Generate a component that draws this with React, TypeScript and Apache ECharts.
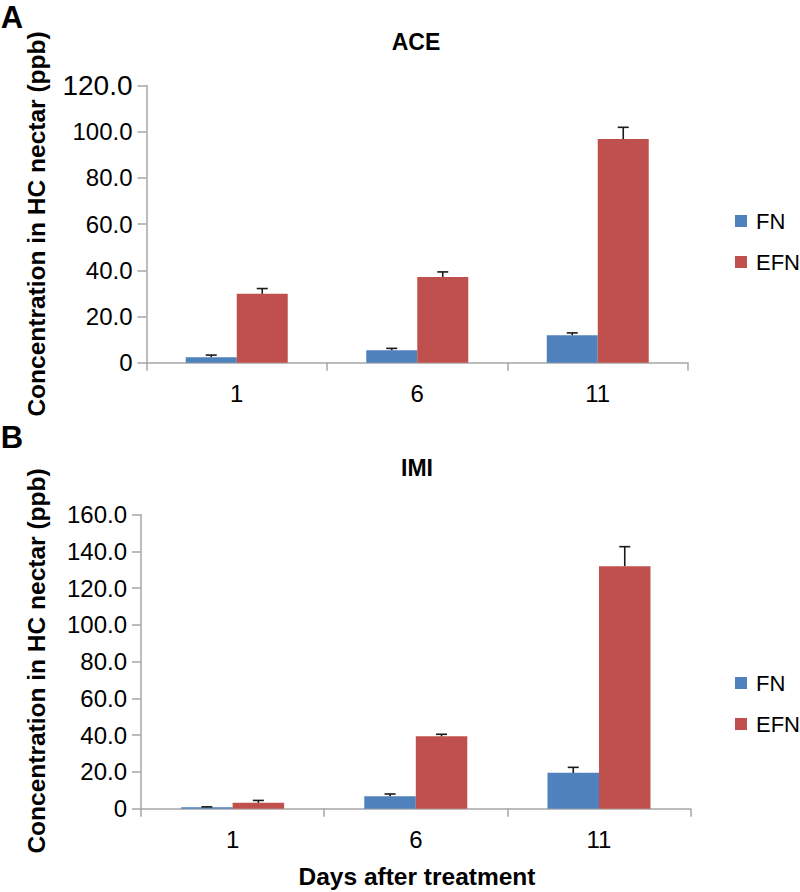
import React, { useEffect, useRef } from "react";
import * as echarts from "echarts";

const categories = ["1", "6", "11"];
const aceFN = [2.4, 5.4, 11.9];
const aceFNErr = [0.9, 0.8, 1.0];
const aceEFN = [29.8, 37.1, 96.8];
const aceEFNErr = [2.3, 2.2, 5.1];
const imiFN = [0.8, 6.8, 19.5];
const imiFNErr = [0.2, 1.2, 3.0];
const imiEFN = [3.2, 39.4, 132.0];
const imiEFNErr = [1.3, 1.1, 10.6];

const FONT = "'Liberation Sans', Arial, Helvetica, sans-serif";
const BLUE = "#4F81BD";
const RED = "#C0504D";
const AXIS = "#A6A6A6";

function errSeries(name: string, vals: number[], errs: number[], gi: number, offset: number) {
  return {
    type: "custom",
    name,
    xAxisIndex: gi,
    yAxisIndex: gi,
    z: 5,
    data: vals.map((v, i) => [i, v, errs[i]]),
    renderItem: (params: any, api: any) => {
      const cat = api.value(0);
      const v = api.value(1);
      const e = api.value(2);
      const base = api.coord([cat, v]);
      const top = api.coord([cat, v + e]);
      const x = base[0] + offset;
      const style = { stroke: "#1a1a1a", lineWidth: 1.6 };
      return {
        type: "group",
        children: [
          { type: "line", shape: { x1: x, y1: base[1], x2: x, y2: top[1] }, style },
          { type: "line", shape: { x1: x - 5.5, y1: top[1], x2: x + 5.5, y2: top[1] }, style },
        ],
      };
    },
  };
}

function yAxisCfg(gi: number, max: number, big: boolean) {
  return {
    type: "value",
    gridIndex: gi,
    min: 0,
    max,
    interval: 20,
    axisLine: { show: true, lineStyle: { color: AXIS, width: 1.5 } },
    axisTick: { show: true, length: 9, lineStyle: { color: AXIS, width: 1.5 } },
    splitLine: { show: false },
    axisLabel: {
      margin: 14,
      color: "#000",
      fontSize: 24,
      fontFamily: FONT,
      formatter: (v: number) => {
        if (v === 0) return "0";
        const s = v.toFixed(1);
        return big && v === max ? "{big|" + s + "}" : s;
      },
      rich: { big: { fontSize: 28, fontFamily: FONT, color: "#000" } },
    },
  };
}

function xAxisCfg(gi: number) {
  return {
    type: "category",
    gridIndex: gi,
    data: categories,
    axisLine: { show: true, lineStyle: { color: AXIS, width: 1.5 } },
    axisTick: { show: true, length: 8, lineStyle: { color: AXIS, width: 1.5 } },
    axisLabel: { margin: 19, color: "#000", fontSize: 24, fontFamily: FONT },
  };
}

function legendCfg(top: number) {
  return {
    data: ["FN", "EFN"],
    orient: "vertical",
    left: 730,
    top,
    icon: "rect",
    itemWidth: 12,
    itemHeight: 12,
    itemGap: 19,
    selectedMode: false,
    textStyle: { fontSize: 22, color: "#000", fontFamily: FONT, padding: [0, 0, 0, 4] },
  };
}

export default function App() {
  const ref = useRef<HTMLDivElement>(null);
  useEffect(() => {
    if (!ref.current) return;
    const chart = echarts.init(ref.current, null, { renderer: "svg" });
    const boldText = (text: string, x: number, y: number, size: number, rot = 0) => ({
      type: "text",
      x,
      y,
      rotation: rot,
      style: {
        text,
        fill: "#000",
        font: `bold ${size}px ${FONT}`,
        align: "center",
        verticalAlign: "middle",
      },
    });
    chart.setOption({
      animation: false,
      backgroundColor: "#fff",
      grid: [
        { left: 146.5, top: 85.5, width: 541.5, height: 277.2 },
        { left: 141, top: 514.7, width: 549.6, height: 294 },
      ],
      xAxis: [xAxisCfg(0), xAxisCfg(1)],
      yAxis: [yAxisCfg(0, 120, true), yAxisCfg(1, 160, false)],
      legend: [legendCfg(205), legendCfg(667)],
      graphic: [
        boldText("A", 12, 17, 31),
        boldText("B", 12, 437, 31),
        boldText("ACE", 416, 42, 23),
        boldText("IMI", 417, 468, 23),
        boldText("Concentration in HC nectar (ppb)", 36, 224, 24.5, Math.PI / 2),
        boldText("Concentration in HC nectar (ppb)", 36, 661, 24.5, Math.PI / 2),
        boldText("Days after treatment", 417, 876, 24.5),
      ],
      series: [
        { type: "bar", name: "FN", xAxisIndex: 0, yAxisIndex: 0, data: aceFN, barWidth: 51, barGap: "0%", itemStyle: { color: BLUE } },
        { type: "bar", name: "EFN", xAxisIndex: 0, yAxisIndex: 0, data: aceEFN, barWidth: 51, barGap: "0%", itemStyle: { color: RED } },
        { type: "bar", name: "FN", xAxisIndex: 1, yAxisIndex: 1, data: imiFN, barWidth: 51.5, barGap: "0%", itemStyle: { color: BLUE } },
        { type: "bar", name: "EFN", xAxisIndex: 1, yAxisIndex: 1, data: imiEFN, barWidth: 51.5, barGap: "0%", itemStyle: { color: RED } },
        errSeries("errAceFN", aceFN, aceFNErr, 0, -25.5),
        errSeries("errAceEFN", aceEFN, aceEFNErr, 0, 25.5),
        errSeries("errImiFN", imiFN, imiFNErr, 1, -25.75),
        errSeries("errImiEFN", imiEFN, imiEFNErr, 1, 25.75),
      ],
    });
    return () => chart.dispose();
  }, []);
  return (
    <div
      ref={ref}
      style={{ position: "absolute", left: 0, top: 0, width: 800, height: 892 }}
    />
  );
}
